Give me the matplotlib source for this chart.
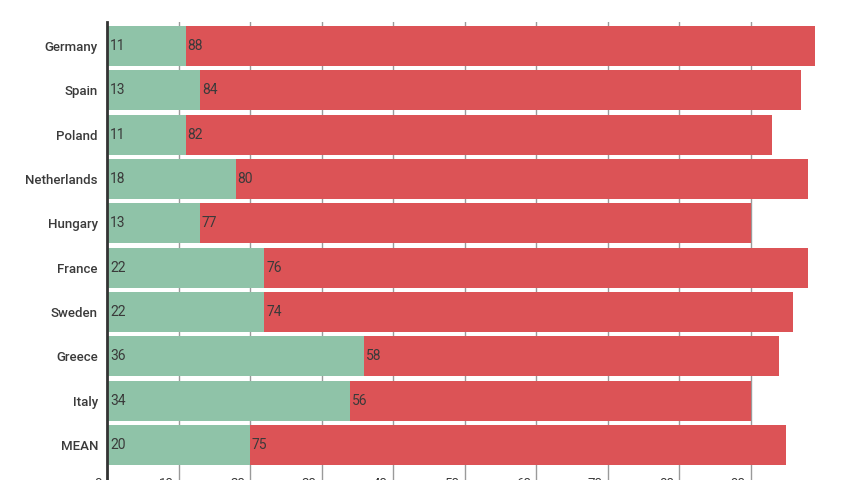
import numpy as np
import matplotlib.pyplot as plt
import matplotlib.transforms as mtransforms

plt.rcParams['font.family'] = ['Roboto', 'DejaVu Sans']

# DATA

countries = ["Germany", "Spain", "Poland", "Netherlands", "Hungary",
             "France", "Sweden", "Greece", "Italy", "MEAN"]
green_vals = [11, 13, 11, 18, 13, 22, 22, 36, 34, 20]
red_vals = [88, 84, 82, 80, 77, 76, 74, 58, 56, 75]
x_ticks = [0, 10, 20, 30, 40, 50, 60, 70, 80, 90]

GREEN = "#8fc3a8"
RED = "#dc5356"
TEXT = "#3a3a3a"

# FIGURE

fig = plt.figure(figsize=(8.5, 4.8), dpi=100)
ax = fig.add_axes([107 / 850, 0, 743 / 850, 458 / 480])

y = np.arange(len(countries))
green = np.array(green_vals)
red = np.array(red_vals)

ax.barh(y, green, height=0.9, color=GREEN, zorder=2)
ax.barh(y, red, left=green, height=0.9, color=RED, zorder=2)

# value labels inside the bars
off_g = mtransforms.ScaledTranslation(3 / 100, 0, fig.dpi_scale_trans)
off_r = mtransforms.ScaledTranslation(2 / 100, 0, fig.dpi_scale_trans)
for i in range(len(countries)):
    ax.text(0, y[i], str(green[i]), ha="left", va="center", fontsize=10,
            color=TEXT, transform=ax.transData + off_g, zorder=3)
    ax.text(green[i], y[i], str(red[i]), ha="left", va="center", fontsize=10,
            color=TEXT, transform=ax.transData + off_r, zorder=3)

ax.set_xlim(0, 743 / 7.15)
ax.set_ylim(9.79, -0.54)

ax.set_yticks(y)
ax.set_yticklabels(countries, fontsize=9.5, color=TEXT, fontweight="medium")
ax.tick_params(axis="y", length=0, pad=6.5)

# x ticks: grid lines plus labels right-aligned just left of each line
ax.set_xticks(x_ticks)
ax.set_xticklabels([str(t) for t in x_ticks], fontsize=9.5, color=TEXT)
ax.tick_params(axis="x", length=0, pad=-2)
shift = mtransforms.ScaledTranslation(-5 / 100, 0, fig.dpi_scale_trans)
for lab in ax.get_xticklabels():
    lab.set_horizontalalignment("right")
    lab.set_transform(lab.get_transform() + shift)

ax.grid(axis="x", color="#9a9a9a", linewidth=1)
ax.set_axisbelow(True)

for side in ["top", "right", "bottom"]:
    ax.spines[side].set_visible(False)
ax.spines["left"].set_color("#333333")
ax.spines["left"].set_linewidth(2)
ax.spines["left"].set_zorder(4)

fig.savefig("out.png", dpi=100)
